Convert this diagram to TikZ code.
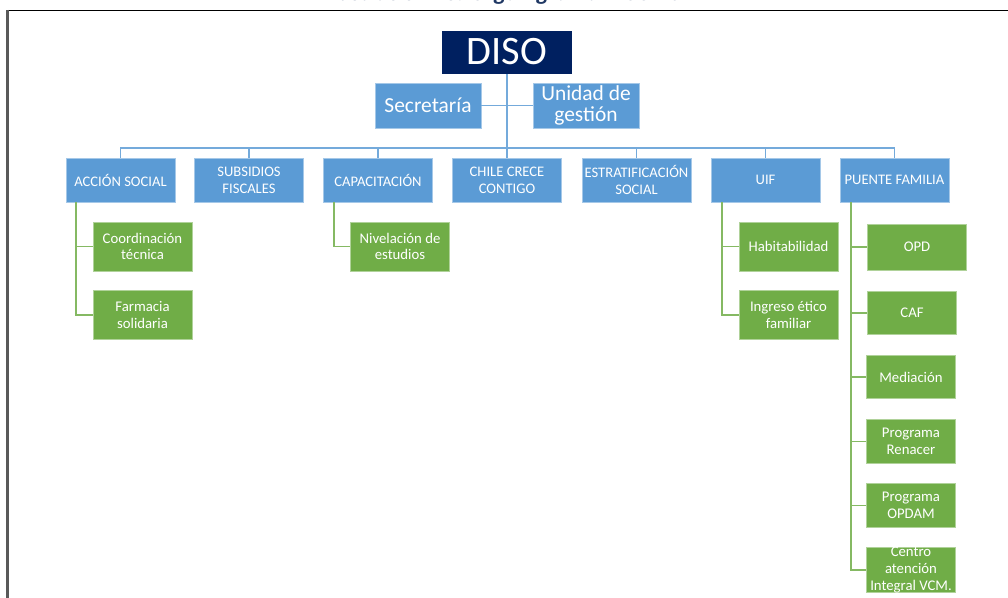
\documentclass[tikz,border=0pt]{standalone}
\usepackage{fontspec}
\setmainfont{Carlito}
\usepackage{tikz}
\usetikzlibrary{positioning, calc}
\definecolor{disoazul}{RGB}{0,32,96}
\definecolor{celeste}{RGB}{91,155,213}
\definecolor{verdeof}{RGB}{112,173,71}
\definecolor{tituloazul}{RGB}{32,56,100}
\tikzset{
  jefe/.style={rectangle, minimum width=2.62cm, minimum height=0.88cm, text centered, draw=white, fill=disoazul, text=white, font=\fontsize{23}{26}\selectfont, inner sep=0pt},
  apoyo/.style={rectangle, minimum width=2.12cm, minimum height=0.9cm, align=center, draw=celeste!55!white, fill=celeste, text=white, font=\fontsize{12.2}{12.3}\selectfont, inner sep=0pt},
  area/.style={rectangle, minimum width=2.18cm, minimum height=0.88cm, align=center, draw=celeste!55!white, fill=celeste, text=white, font=\fontsize{8.3}{9.5}\selectfont, inner sep=0pt},
  prog/.style={rectangle, minimum width=1.98cm, minimum height=0.98cm, align=center, draw=verdeof!55!white, fill=verdeof, text=white, font=\fontsize{8.4}{9.5}\selectfont, inner sep=0pt},
  progc/.style={prog, minimum width=1.78cm, minimum height=0.87cm},
  lineaz/.style={draw=celeste!85!white, line width=1pt},
  lineav/.style={draw=verdeof!85!white, line width=1pt}
}

\begin{document}
\begin{tikzpicture}[x=0.02cm, y=-0.02cm]
  \useasboundingbox (0,0) rectangle (1008,598);
  % Marco y título (cortado arriba)
  \node (titulo) [font=\fontsize{13.2}{15}\selectfont\bfseries\itshape, text=tituloazul, anchor=base] at (516,0.5) {Ilustración 43: Organigrama DISO 2022};
  \draw [line width=0.75pt, black] (7,10.5) -- (1008,10.5);
  \draw [line width=1.2pt, black!65] (7.5,10) -- (7.5,598);
  % Dirección
  \node (diso) [jefe] at (507,52) {DISO};
  \node (secre) [apoyo] at (428,105.5) {Secretaría};
  \node (ugestion) [apoyo] at (586,105.5) {Unidad de\\gestión};
  \coordinate (barra) at (507,148);
  \draw [lineaz] (diso.south) -- (barra);
  \draw [lineaz] (secre.east) -- (ugestion.west);
  % Áreas
  \node (accion) [area] at (120.5,180) {ACCIÓN SOCIAL};
  \node (subsidios) [area] at (249,180) {SUBSIDIOS\\FISCALES};
  \node (capacit) [area] at (378,180) {CAPACITACIÓN};
  \node (chcc) [area] at (507,180) {CHILE CRECE\\CONTIGO};
  \node (estrat) [area] at (636.5,180) {ESTRATIFICACIÓN\\SOCIAL};
  \node (uif) [area] at (765.5,180) {UIF};
  \node (puente) [area] at (894.5,180) {PUENTE FAMILIA};
  \draw [lineaz] (accion.north) |- (barra);
  \draw [lineaz] (subsidios.north) |- (barra);
  \draw [lineaz] (capacit.north) |- (barra);
  \draw [lineaz] (chcc.north) -- (barra);
  \draw [lineaz] (estrat.north) |- (barra);
  \draw [lineaz] (uif.north) |- (barra);
  \draw [lineaz] (puente.north) |- (barra);
  % Programas
  \node (coord) [prog] at (142.5,246.5) {Coordinación\\técnica};
  \node (farmacia) [prog] at (142.5,315) {Farmacia\\solidaria};
  \node (nivel) [prog] at (400,246.5) {Nivelación de\\estudios};
  \node (habit) [prog] at (788.5,246.5) {Habitabilidad};
  \node (ingreso) [prog] at (788.5,315) {Ingreso ético\\familiar};
  \node (opd) [prog, minimum height=0.92cm] at (917,247) {OPD};
  \node (caf) [progc] at (912,313) {CAF};
  \node (mediacion) [progc] at (911,377) {Mediación};
  \node (renacer) [progc] at (911,441.5) {Programa\\Renacer};
  \node (opdam) [progc] at (911,505.5) {Programa\\OPDAM};
  \node (centro) [progc, inner ysep=0pt] at (911,570) {Centro\\atención\\Integral VCM.};
  \draw [lineav] ([xshift=0.2cm]accion.south west) |- (coord.west);
  \draw [lineav] ([xshift=0.2cm]accion.south west) |- (farmacia.west);
  \draw [lineav] ([xshift=0.22cm]capacit.south west) |- (nivel.west);
  \draw [lineav] ([xshift=0.22cm]uif.south west) |- (habit.west);
  \draw [lineav] ([xshift=0.22cm]uif.south west) |- (ingreso.west);
  \draw [lineav] ([xshift=0.22cm]puente.south west) |- (opd.west);
  \draw [lineav] ([xshift=0.22cm]puente.south west) |- (caf.west);
  \draw [lineav] ([xshift=0.22cm]puente.south west) |- (mediacion.west);
  \draw [lineav] ([xshift=0.22cm]puente.south west) |- (renacer.west);
  \draw [lineav] ([xshift=0.22cm]puente.south west) |- (opdam.west);
  \draw [lineav] ([xshift=0.22cm]puente.south west) |- (centro.west);
\end{tikzpicture}
\end{document}
